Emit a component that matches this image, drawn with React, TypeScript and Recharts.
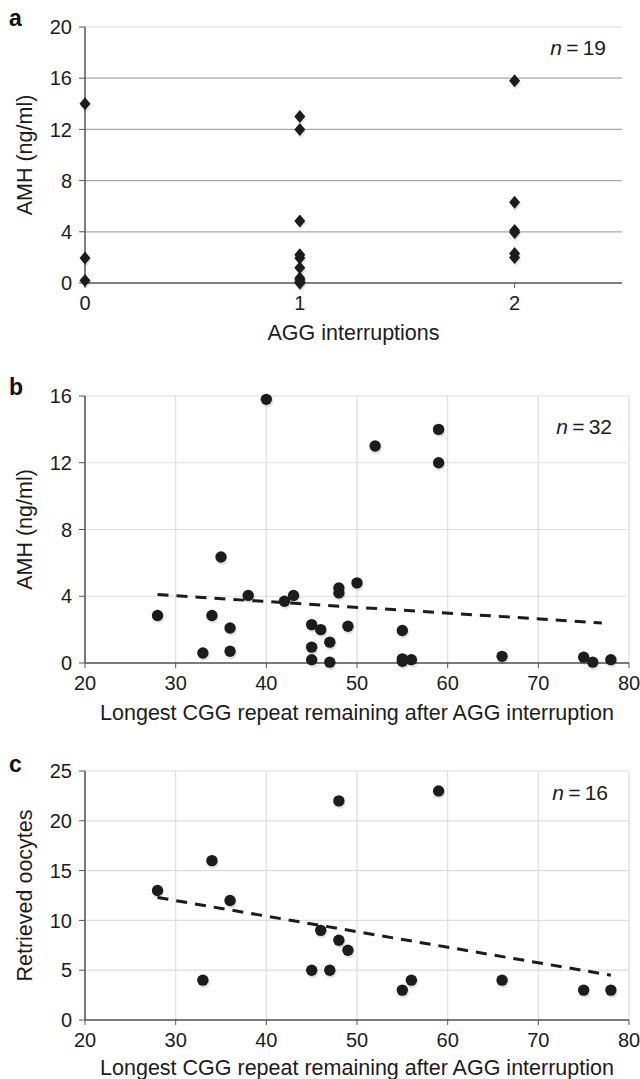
import React from 'react'
import { ScatterChart, Scatter, XAxis, YAxis, CartesianGrid, ReferenceLine } from 'recharts'

const FONT = '"Liberation Sans", Arial, Helvetica, sans-serif'
const INK = '#1c1c1c'

// panel a: AMH by number of AGG interruptions
const aggInterruptions = [0, 0, 0, 1, 1, 1, 1, 1, 1, 1, 1, 1, 1, 2, 2, 2, 2, 2, 2]
const amhByAgg = [14, 1.95, 0.2, 13, 12, 4.85, 2.2, 1.95, 1.2, 0.4, 0.25, 0.1, 0, 15.8, 6.3, 4.1, 3.95, 2.3, 2.0]
const aggTicks = [0, 1, 2]
const amhTicksA = [0, 4, 8, 12, 16, 20]

// panel b: AMH vs longest CGG repeat
const cggB = [40, 59, 52, 59, 35, 50, 48, 48, 38, 43, 42, 28, 34, 36, 45, 46, 49, 55, 47, 45, 36, 33, 66, 75, 45, 47, 55, 55, 56, 76, 78]
const amhB = [15.8, 14, 13, 12, 6.35, 4.8, 4.5, 4.2, 4.05, 4.05, 3.7, 2.85, 2.85, 2.1, 2.3, 2.0, 2.2, 1.95, 1.25, 0.95, 0.7, 0.6, 0.4, 0.35, 0.2, 0.05, 0.25, 0.1, 0.2, 0.05, 0.2]
const trendBx = [28, 77]
const trendBy = [4.1, 2.4]
const amhTicksB = [0, 4, 8, 12, 16]

// panel c: retrieved oocytes vs longest CGG repeat
const cggC = [28, 34, 36, 33, 48, 59, 46, 48, 49, 45, 47, 55, 56, 66, 75, 78]
const oocytesC = [13, 16, 12, 4, 22, 23, 9, 8, 7, 5, 5, 3, 4, 4, 3, 3]
const trendCx = [28, 78]
const trendCy = [12.3, 4.5]
const oocyteTicks = [0, 5, 10, 15, 20, 25]

const cggTicks = [20, 30, 40, 50, 60, 70, 80]

const zip = (xs: number[], ys: number[]) => xs.map((x, i) => ({ x, y: ys[i] }))

const Diamond = (p: any) => (
  <g>
    <path
      d={`M${p.cx + 1},${p.cy - 4.5}L${p.cx + 6.5},${p.cy + 2}L${p.cx + 1},${p.cy + 8.5}L${p.cx - 4.5},${p.cy + 2}Z`}
      fill="rgba(0,0,0,0.12)"
    />
    <path d={`M${p.cx},${p.cy - 6.5}L${p.cx + 5.5},${p.cy}L${p.cx},${p.cy + 6.5}L${p.cx - 5.5},${p.cy}Z`} fill={INK} />
  </g>
)

const Dot = (p: any) => (
  <g>
    <circle cx={p.cx + 1} cy={p.cy + 2} r={5.8} fill="rgba(0,0,0,0.12)" />
    <circle cx={p.cx} cy={p.cy} r={5.7} fill={INK} />
  </g>
)

const XTick = (p: any) => (
  <text x={p.x} y={p.y} dy="0.72em" textAnchor="middle" fontFamily={FONT} fontSize={20} fill={INK}>
    {p.payload.value}
  </text>
)

const YTick = (p: any) => (
  <text x={p.x} y={p.y} dy="0.36em" textAnchor="end" fontFamily={FONT} fontSize={20} fill={INK}>
    {p.payload.value}
  </text>
)

function XTitle({ viewBox, text, dy }: any) {
  return (
    <text
      x={viewBox.x + viewBox.width / 2}
      y={viewBox.y + dy}
      textAnchor="middle"
      fontFamily={FONT}
      fontSize={21.5}
      fill={INK}
    >
      {text}
    </text>
  )
}

function YTitle({ viewBox, text }: any) {
  const cx = viewBox.x + 25
  const cy = viewBox.y + viewBox.height / 2
  return (
    <text
      x={cx}
      y={cy}
      transform={`rotate(-90 ${cx} ${cy})`}
      textAnchor="middle"
      dominantBaseline="central"
      fontFamily={FONT}
      fontSize={21.5}
      fill={INK}
    >
      {text}
    </text>
  )
}

const axisLine = { stroke: '#555', strokeWidth: 1.5 }

function PanelTag({ letter, top }: { letter: string; top: number }) {
  return (
    <div
      style={{
        position: 'absolute',
        left: 9,
        top,
        fontFamily: FONT,
        fontWeight: 'bold',
        fontSize: 23,
        lineHeight: '24px',
        color: '#111',
      }}
    >
      {letter}
    </div>
  )
}

function NLabel({ n, right, top }: { n: number; right: number; top: number }) {
  return (
    <div
      style={{
        position: 'absolute',
        right,
        top,
        fontFamily: FONT,
        fontSize: 21,
        lineHeight: '22px',
        color: INK,
      }}
    >
      <i>n</i>
      {'\u2009=\u2009'}
      {n}
    </div>
  )
}

export default function App() {
  const dataA = zip(aggInterruptions, amhByAgg)
  const dataB = zip(cggB, amhB)
  const dataC = zip(cggC, oocytesC)
  const trendB = zip(trendBx, trendBy)
  const trendC = zip(trendCx, trendCy)

  return (
    <div style={{ position: 'absolute', left: 0, top: 0, width: 640, height: 1079, background: '#fff' }}>
      {/* a */}
      <div style={{ position: 'absolute', left: 0, top: 0 }}>
        <ScatterChart width={640} height={350} margin={{ top: 27, right: 18, bottom: 0, left: 0 }}>
          <CartesianGrid vertical={false} stroke="#a9a9a9" strokeWidth={1.2} horizontalValues={[4, 8, 12, 16]} />
          <ReferenceLine y={20} stroke="#dcdcdc" />
          <XAxis
            type="number"
            dataKey="x"
            domain={[0, 2.5]}
            ticks={aggTicks}
            tick={XTick}
            tickSize={5}
            tickMargin={8}
            height={67}
            axisLine={axisLine}
            tickLine={{ stroke: '#555' }}
            label={<XTitle text="AGG interruptions" dy={57} />}
          />
          <YAxis
            type="number"
            dataKey="y"
            domain={[0, 20]}
            ticks={amhTicksA}
            tick={YTick}
            tickSize={6}
            tickMargin={7}
            width={85}
            axisLine={axisLine}
            tickLine={{ stroke: '#555' }}
            label={<YTitle text="AMH (ng/ml)" />}
          />
          <Scatter data={dataA} shape={Diamond} isAnimationActive={false} />
        </ScatterChart>
        <PanelTag letter="a" top={6} />
        <NLabel n={19} right={34} top={37} />
      </div>

      {/* b */}
      <div style={{ position: 'absolute', left: 0, top: 350 }}>
        <ScatterChart width={640} height={375} margin={{ top: 46, right: 11, bottom: 0, left: 0 }}>
          <CartesianGrid stroke="#dedede" strokeWidth={1.2} />
          <XAxis
            type="number"
            dataKey="x"
            domain={[20, 80]}
            ticks={cggTicks}
            tick={XTick}
            tickSize={5}
            tickMargin={8}
            height={62}
            axisLine={axisLine}
            tickLine={{ stroke: '#555' }}
            label={<XTitle text="Longest CGG repeat remaining after AGG interruption" dy={57} />}
          />
          <YAxis
            type="number"
            dataKey="y"
            domain={[0, 16]}
            ticks={amhTicksB}
            tick={YTick}
            tickSize={6}
            tickMargin={7}
            width={85}
            axisLine={axisLine}
            tickLine={{ stroke: '#555' }}
            label={<YTitle text="AMH (ng/ml)" />}
          />
          <ReferenceLine segment={[trendB[0], trendB[1]]} stroke={INK} strokeWidth={3} strokeDasharray="11 8" />
          <Scatter data={dataB} shape={Dot} isAnimationActive={false} />
        </ScatterChart>
        <PanelTag letter="b" top={25} />
        <NLabel n={32} right={28} top={66} />
      </div>

      {/* c */}
      <div style={{ position: 'absolute', left: 0, top: 725 }}>
        <ScatterChart width={640} height={354} margin={{ top: 46, right: 11, bottom: 0, left: 0 }}>
          <CartesianGrid stroke="#dedede" strokeWidth={1.2} />
          <XAxis
            type="number"
            dataKey="x"
            domain={[20, 80]}
            ticks={cggTicks}
            tick={XTick}
            tickSize={5}
            tickMargin={8}
            height={59}
            axisLine={axisLine}
            tickLine={{ stroke: '#555' }}
            label={<XTitle text="Longest CGG repeat remaining after AGG interruption" dy={55} />}
          />
          <YAxis
            type="number"
            dataKey="y"
            domain={[0, 25]}
            ticks={oocyteTicks}
            tick={YTick}
            tickSize={6}
            tickMargin={7}
            width={85}
            axisLine={axisLine}
            tickLine={{ stroke: '#555' }}
            label={<YTitle text="Retrieved oocytes" />}
          />
          <ReferenceLine segment={[trendC[0], trendC[1]]} stroke={INK} strokeWidth={3} strokeDasharray="11 8" />
          <Scatter data={dataC} shape={Dot} isAnimationActive={false} />
        </ScatterChart>
        <PanelTag letter="c" top={27} />
        <NLabel n={16} right={32} top={57} />
      </div>
    </div>
  )
}
